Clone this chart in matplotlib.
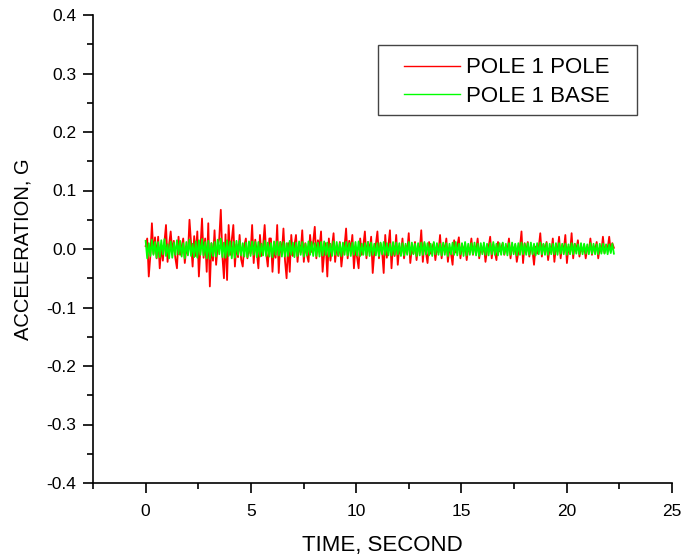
import numpy as np
import matplotlib
matplotlib.use("Agg")
import matplotlib.pyplot as plt
from matplotlib.ticker import MultipleLocator
from matplotlib.patches import Rectangle

plt.rcParams['font.family'] = ['Liberation Sans', 'DejaVu Sans']

# Acceleration readings in milli-G (4 samples per 0.3 s)
pole_mg = [
    5, 18, -47, -12,   44, -8, 20, -16,   21, -33, 6, -20,   12, 41, -22, 8,
    30, -5, 14, -16,   -33, 21, -10, 4,   18, -24, 2, -9,    50, 10, -30, 22,
    -12, 30, -47, 4,   52, -15, 18, -39,  44, -64, 10, -20,  32, -27, 5, 18,
    67, -12, -50, 25,  -53, 41, -10, 15,  41, -30, 8, -14,   24, -18, -30, 6,
    18, -16, 4, -8,    41, -24, 16, -6,   -33, 24, -12, 5,   41, -8, -30, 18,
    18, -39, 3, -15,   41, -41, 12, -8,   35, -20, -50, 10,  -39, 24, -12, 6,
    24, -22, 8, -6,    32, -22, 10, -10,  -22, 24, -5, 12,   38, -16, 15, 2,
    30, -39, -8, 10,   -47, 18, -20, 4,   27, -22, 6, -12,   12, -30, -4, 5,
    35, -16, 14, -2,   24, -33, 2, -14,   -33, 18, -10, 6,   30, -16, 12, -5,
    21, -41, -6, 8,    30, -16, 10, -4,   -41, 24, -15, 6,   32, -33, 8, -12,
    24, -27, 4, -10,   18, -16, 6, -6,    27, -24, 2, -8,    12, -19, 5, -4,
    32, -22, 10, -6,   -24, 12, -8, 4,    10, -19, 3, -6,    24, -16, 8, -4,
    18, -22, 2, -8,    -27, 15, -6, 5,    20, -16, 6, -4,    10, -19, 2, -5,
    18, -10, 5, -3,    18, -16, 4, -6,    7, -22, -2, 3,     21, -16, 8, -5,
    -19, 12, -4, 2,    10, -10, 4, -3,    18, -16, 6, -4,    7, -22, -5, 2,
    30, -24, 10, -6,   12, -13, 3, -2,    -27, 4, -8, 2,     27, -13, 8, -3,
    12, -19, 2, -6,    18, -22, 5, -4,    21, -16, 6, -2,    24, -24, 4, -8,
    27, -16, 9, -3,    15, -13, 3, -5,    7, -16, 2, -4,     18, -10, 5, -2,
    12, -16, 3, -5,    21, -7, 6, 0,      21, -4, 10, 2,
]

base_mg = [
    14, -16, 10, -12,  16, -10, 12, -15,  12, -14, 15, -9,   17, -12, 8, -16,
    13, -15, 11, -10,  15, -9, 14, -13,   10, -16, 12, -11,  16, -12, 9, -14,
    13, -15, 15, -10,  17, -11, 12, -16,  14, -17, 10, -12,  12, -13, 16, -9,
    18, -14, 11, -15,  15, -12, 13, -16,  12, -15, 14, -10,  14, -11, 10, -13,
    11, -14, 13, -12,  13, -10, 12, -14,  12, -13, 9, -11,   14, -12, 11, -13,
    10, -14, 13, -10,  13, -11, 12, -13,  12, -13, 10, -12,  14, -10, 11, -14,
    11, -12, 13, -10,  12, -13, 9, -11,   13, -10, 12, -12,  10, -12, 11, -13,
    12, -11, 13, -10,  11, -13, 9, -12,   13, -10, 12, -11,  10, -12, 11, -10,
    12, -11, 10, -12,  11, -10, 12, -11,  13, -12, 9, -10,   10, -11, 12, -12,
    11, -10, 9, -11,   10, -12, 11, -9,   12, -10, 10, -11,  9, -11, 12, -10,
    11, -9, 10, -12,   10, -11, 9, -10,   12, -10, 11, -9,   9, -12, 10, -11,
    11, -10, 12, -9,   10, -11, 9, -12,   12, -9, 10, -10,   9, -11, 11, -10,
    10, -12, 9, -9,    11, -10, 12, -11,  9, -9, 10, -12,    12, -11, 9, -10,
    10, -9, 11, -11,   9, -12, 10, -9,    11, -10, 9, -11,   10, -9, 12, -10,
    9, -11, 10, -10,   11, -9, 9, -11,    10, -10, 11, -9,   9, -11, 10, -10,
    11, -9, 9, -10,    10, -10, 11, -9,   9, -11, 10, -9,    11, -9, 9, -10,
    10, -10, 9, -9,    9, -9, 10, -10,    10, -8, 9, -9,     9, -10, 8, -9,
    10, -9, 9, -8,     8, -9, 10, -9,     9, -8, 8, -9,      10, -8, 9, -9,
    8, -9, 9, -8,      9, -8, 8, -9,      8, -7, 9, -8,
]

t_end = 22.24
labels = ["POLE 1 POLE", "POLE 1 BASE"]
x_ticks = [0, 5, 10, 15, 20, 25]
y_ticks = [-0.4, -0.3, -0.2, -0.1, 0.0, 0.1, 0.2, 0.3, 0.4]

pole = np.array(pole_mg) / 1000.0
base = np.array(base_mg) / 1000.0
t_pole = np.linspace(0, t_end, len(pole))
t_base = np.linspace(0, t_end, len(base))

W, H = 682, 559
fig = plt.figure(figsize=(W/100, H/100), dpi=100)
ax = fig.add_axes([93/W, 1-483/H, (672-93)/W, (483-15)/H])

ax.plot(t_pole, pole, color='#ff0000', lw=1.3, label=labels[0])
ax.plot(t_base, base, color='#00ff00', lw=1.3, label=labels[1])

ax.set_xlim(-2.5, 25)
ax.set_ylim(-0.4, 0.4)
ax.set_xticks(x_ticks)
ax.set_yticks(y_ticks)
ax.set_yticklabels([f"{v:.1f}" for v in y_ticks])
ax.xaxis.set_minor_locator(MultipleLocator(2.5))
ax.yaxis.set_minor_locator(MultipleLocator(0.05))

for s in ['top', 'right']:
    ax.spines[s].set_visible(False)
for s in ['left', 'bottom']:
    ax.spines[s].set_linewidth(1.2)
    ax.spines[s].set_color('black')

ax.tick_params(which='major', direction='out', length=7, width=1.2, pad=5)
ax.tick_params(which='minor', direction='out', length=4, width=1.2)
ax.tick_params(axis='x', labelsize=12.5, pad=8)
ax.tick_params(axis='y', labelsize=12.5)

ax.set_xlabel("TIME, SECOND", fontsize=16, labelpad=12)
ax.set_ylabel("ACCELERATION, G", fontsize=14.5, labelpad=10)

# Legend content (frame drawn separately to match the wide, short box)
leg = ax.legend(loc='center', bbox_to_anchor=(507/W, 1-82/H),
                bbox_transform=fig.transFigure, frameon=False,
                fontsize=16, handlelength=2.5, handletextpad=0.3,
                labelspacing=0.32, borderpad=0, borderaxespad=0)
for h in leg.get_lines():
    h.set_linewidth(1.0)

fig.patches.append(Rectangle((378/W, 1-115/H), (637-378)/W, (115-45)/H,
                             transform=fig.transFigure, fill=False,
                             edgecolor='#444444', linewidth=1.0, zorder=5))

fig.savefig("out.png", dpi=100)
